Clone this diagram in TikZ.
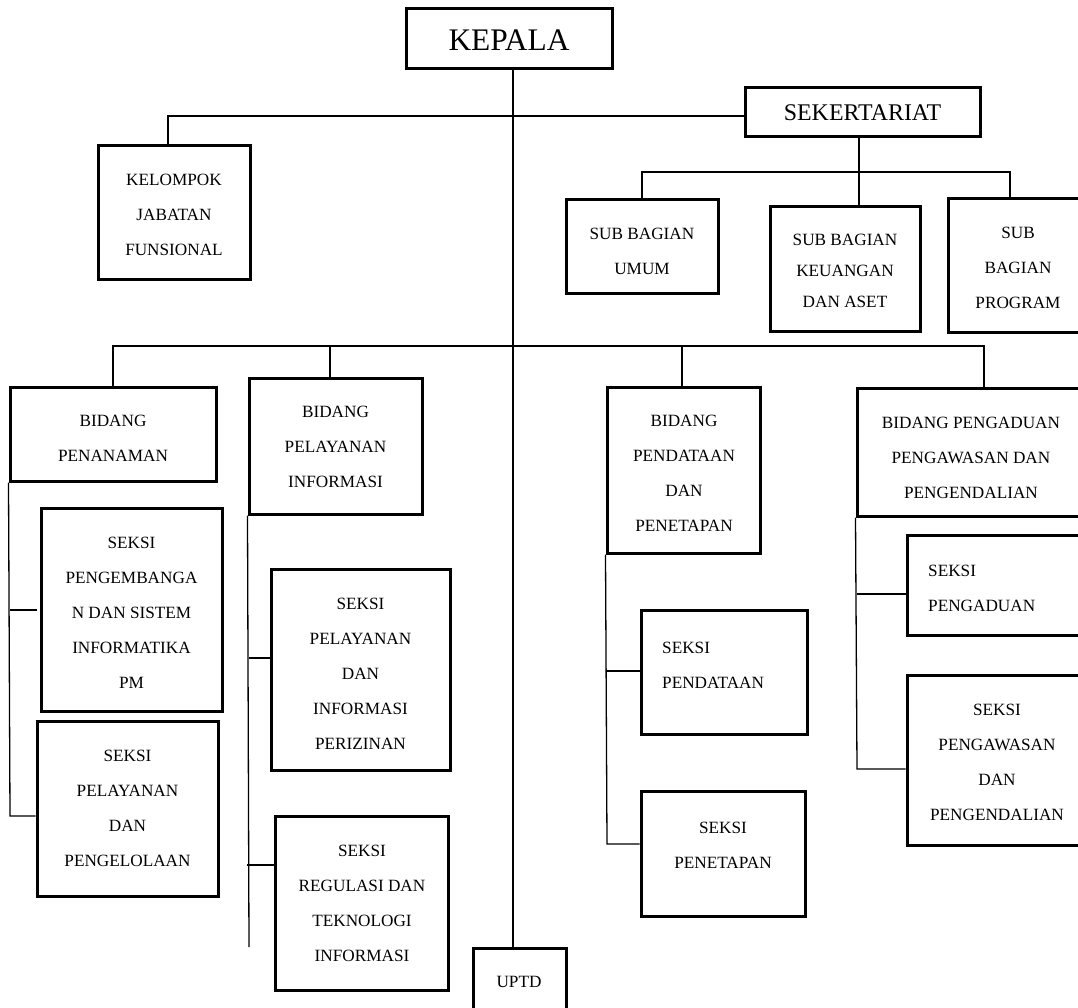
\documentclass[tikz,border=0pt]{standalone}
\usepackage{fontspec}
\setmainfont{Liberation Serif}
\begin{document}
\begin{tikzpicture}[x=1pt,y=-1pt,
  box/.style={draw=black, line width=3pt, rectangle, inner sep=0pt},
  txt/.style={align=center, inner sep=0pt, text=black, font=\fontsize{17.2}{35}\selectfont},
  txtl/.style={align=left, inner sep=0pt, text=black, anchor=west, font=\fontsize{17.2}{35}\selectfont},
  conn/.style={line width=1.3pt, draw=black}]
\useasboundingbox (0,0) rectangle (1078,1008);
\clip (0,0) rectangle (1078,1008);

% boxes
\node[box, minimum width=206pt, minimum height=60pt] (kepala) at (509,39) {};
\node[inner sep=0pt, font=\fontsize{31.4}{36}\selectfont] (kepala-t) at (509,40) {KEPALA};

\node[box, minimum width=235pt, minimum height=49pt] (sek) at (862.5,112.5) {};
\node[inner sep=0pt, font=\fontsize{23.9}{28}\selectfont] (sek-t) at (862.5,113) {SEKERTARIAT};

\node[box, minimum width=152pt, minimum height=133pt] (kjf) at (174,212.5) {};
\node[txt] (kjf-t) at (174,215) {KELOMPOK\\JABATAN\\FUNSIONAL};

\node[box, minimum width=152pt, minimum height=93pt] (sbu) at (642,246.5) {};
\node[txt] (sbu-t) at (642,251.5) {SUB BAGIAN\\UMUM};

\node[box, minimum width=150pt, minimum height=124pt] (sbk) at (845,269) {};
\node[txt, font=\fontsize{17.2}{31}\selectfont] (sbk-t) at (845,271) {SUB BAGIAN\\KEUANGAN\\DAN ASET};

\node[box, minimum width=140pt, minimum height=133pt] (sbp) at (1018,265.5) {};
\node[txt] (sbp-t) at (1018,268) {SUB\\BAGIAN\\PROGRAM};

\node[box, minimum width=206pt, minimum height=94pt] (bpn) at (113,434) {};
\node[txt] (bpn-t) at (113,438.5) {BIDANG\\PENANAMAN};

\node[box, minimum width=173pt, minimum height=136pt] (bpi) at (335.5,446) {};
\node[txt] (bpi-t) at (335.5,447) {BIDANG\\PELAYANAN\\INFORMASI};

\node[box, minimum width=153pt, minimum height=166pt] (bpp) at (683.5,470) {};
\node[txt] (bpp-t) at (684,473) {BIDANG\\PENDATAAN\\DAN\\PENETAPAN};

\node[box, minimum width=228pt, minimum height=128pt] (bpg) at (971,452) {};
\node[txt] (bpg-t) at (971,458) {BIDANG PENGADUAN\\PENGAWASAN DAN\\PENGENDALIAN};

\node[box, minimum width=181pt, minimum height=203pt] (spg) at (131.5,609.5) {};
\node[txt] (spg-t) at (131.5,612.5) {SEKSI\\PENGEMBANGA\\N DAN SISTEM\\INFORMATIKA\\PM};

\node[box, minimum width=181pt, minimum height=175pt] (spp) at (127.5,808.5) {};
\node[txt] (spp-t) at (127.5,808) {SEKSI\\PELAYANAN\\DAN\\PENGELOLAAN};

\node[box, minimum width=179pt, minimum height=201pt] (spi) at (360.5,669.5) {};
\node[txt] (spi-t) at (360.5,674) {SEKSI\\PELAYANAN\\DAN\\INFORMASI\\PERIZINAN};

\node[box, minimum width=173pt, minimum height=174pt] (srt) at (361.5,903) {};
\node[txt] (srt-t) at (362,903.5) {SEKSI\\REGULASI DAN\\TEKNOLOGI\\INFORMASI};

\node[box, minimum width=93pt, minimum height=68pt] (uptd) at (519.5,982) {};
\node[txt] (uptd-t) at (519,982) {UPTD};

\node[box, minimum width=166pt, minimum height=124pt] (spd) at (724,672) {};
\node[txtl] (spd-t) at (662,665) {SEKSI\\PENDATAAN};

\node[box, minimum width=164pt, minimum height=125pt] (spt) at (723,853.5) {};
\node[txt] (spt-t) at (723,845) {SEKSI\\PENETAPAN};

\node[box, minimum width=180pt, minimum height=100pt] (sad) at (997,585) {};
\node[txtl] (sad-t) at (928,588.5) {SEKSI\\PENGADUAN};

\node[box, minimum width=180pt, minimum height=170pt] (sws) at (997,760) {};
\node[txt] (sws-t) at (997,762.5) {SEKSI\\PENGAWASAN\\DAN\\PENGENDALIAN};

% connector coordinates
\coordinate (vx) at (513,0);
\coordinate (h1) at (168,116);
\coordinate (s1) at (859,172);
\coordinate (s2) at (642,172);
\coordinate (s3) at (1010,172);
\coordinate (m1) at (113,346);
\coordinate (m2) at (330,346);
\coordinate (m3) at (682,346);
\coordinate (m4) at (984,346);
\coordinate (l1) at (10,610);
\coordinate (l1e) at (37,610);
\coordinate (l2) at (10,816);
\coordinate (p1) at (249,658);
\coordinate (p2) at (247,865);
\coordinate (p3) at (249,947);
\coordinate (q1) at (607,671);
\coordinate (q2) at (607,844);
\coordinate (r1) at (857,594);
\coordinate (r2) at (857,769);

% connectors
\draw[conn] (kepala.south -| vx) -- (uptd.north -| vx);
\draw[conn] (kjf.north -| h1) -- (h1) -- (sek.west |- h1);
\draw[conn] (sek.south -| s1) -- (sbk.north -| s1);
\draw[conn] (sbu.north -| s2) -- (s2) -- (s3) -- (sbp.north -| s3);
\draw[conn] (bpn.north -| m1) -- (m1) -- (m4) -- (bpg.north -| m4);
\draw[conn] (m2) -- (bpi.north -| m2);
\draw[conn] (m3) -- (bpp.north -| m3);
\draw[conn] (bpn.south west) -- (l2) -- (spp.west |- l2);
\draw[conn] (l1) -- (l1e);
\draw[conn] (bpi.south west) -- (p3);
\draw[conn] (p1) -- (spi.west |- p1);
\draw[conn] (p2) -- (srt.west |- p2);
\draw[conn] (bpp.south west) -- (q2) -- (spt.west |- q2);
\draw[conn] (q1) -- (spd.west |- q1);
\draw[conn] (bpg.south west) -- (r2) -- (sws.west |- r2);
\draw[conn] (r1) -- (sad.west |- r1);
\end{tikzpicture}
\end{document}
